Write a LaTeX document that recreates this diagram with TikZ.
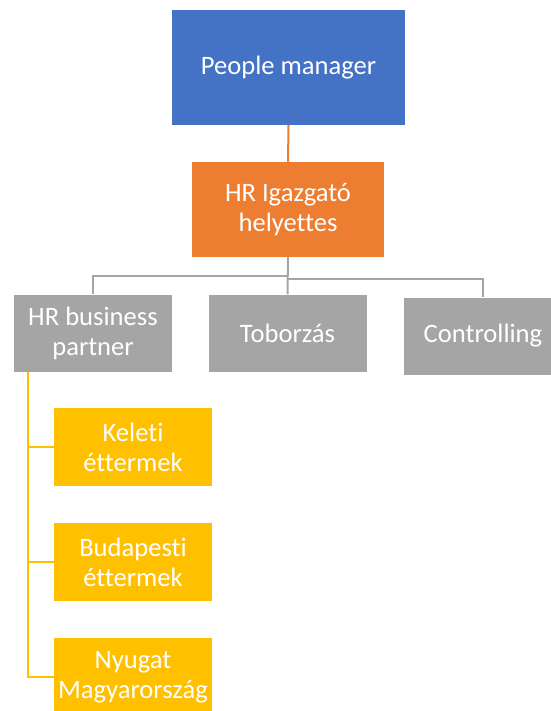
\documentclass[tikz,border=0pt]{standalone}
\usepackage{fontspec}
\setmainfont{Carlito}[Ligatures={NoCommon,NoContextual}]
\definecolor{blu}{HTML}{4472C4}
\definecolor{org}{HTML}{ED7D31}
\definecolor{gry}{HTML}{A5A5A5}
\definecolor{ylw}{HTML}{FFC000}
\begin{document}
\begin{tikzpicture}[x=1pt,y=-1pt,
  box/.style={rectangle, inner sep=0pt, text=white, align=center,
    font=\fontsize{26.6}{30}\selectfont},
  graybox/.style={box, fill=gry, minimum width=158pt, minimum height=77pt},
  ylwbox/.style={box, fill=ylw, minimum width=158pt, minimum height=78pt},
  link/.style={line width=2pt},
]
\useasboundingbox (0,0) rectangle (550,711);
\node[box, fill=blu, minimum width=233pt, minimum height=115pt] (pm) at (288.5,67.5) {People manager};
\node[box, fill=org, minimum width=192pt, minimum height=95pt] (hr) at (288,209.5) {HR Igazgató\\helyettes};
\node[graybox] (hrbp) at (93,333) {HR business\\partner};
\node[graybox] (tob) at (287.5,333) {Toborzás};
\node[graybox] (ctr) at (483,336) {Controlling};
\node[ylwbox] (kel) at (133,447) {Keleti\\éttermek};
\node[ylwbox] (bud) at (133,562) {Budapesti\\éttermek};
\node[ylwbox] (nyu) at (133,677) {Nyugat\\Magyarország};
\draw[link, org] (pm.south) -- (hr.north);
\draw[link, gry] (hr.south) -- (tob.north);
\draw[link, gry] (hr.south) ++(0,19) -| (hrbp.north);
\draw[link, gry] (hr.south) ++(0,22) -| (ctr.north);
\coordinate (ytop) at (28,372);
\draw[link, ylw] (ytop) |- (nyu.west);
\draw[link, ylw] (ytop) |- (kel.west);
\draw[link, ylw] (ytop) |- (bud.west);
\end{tikzpicture}
\end{document}
